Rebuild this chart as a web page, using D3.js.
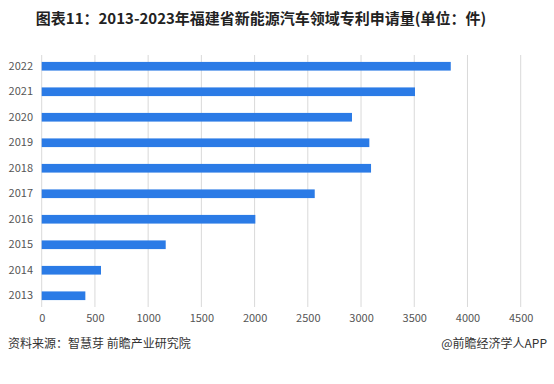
<!DOCTYPE html>
<html lang="zh">
<head>
<meta charset="utf-8" />
<script src="https://d3js.org/d3.v7.min.js"></script>
<style>
  body { margin: 0; background: #fff; }
  text { font-family: "Noto Sans CJK SC", "Noto Sans", sans-serif; }
</style>
</head>
<body>
<script>
  var years = ["2022", "2021", "2020", "2019", "2018", "2017", "2016", "2015", "2014", "2013"];
  var patents = [3843, 3507, 2915, 3078, 3094, 2565, 2007, 1165, 557, 410];
  var xTicks = [0, 500, 1000, 1500, 2000, 2500, 3000, 3500, 4000, 4500];

  var width = 554,
      height = 384;

  var svg = d3.select("body").append("svg")
      .attr("width", width)
      .attr("height", height);

  var x = d3.scaleLinear().domain([0, 4500]).range([41.7, 520.7]);
  var y = d3.scaleBand().domain(years).range([53.5, 308.5]).paddingInner(0.66).paddingOuter(0.33);

  // grid lines
  svg.append("g").selectAll("line")
      .data(xTicks)
      .enter().append("line")
      .attr("x1", function (d) { return x(d); })
      .attr("x2", function (d) { return x(d); })
      .attr("y1", 55)
      .attr("y2", 307)
      .attr("stroke", "#d9d9d9")
      .attr("stroke-width", 1);

  // bars
  svg.append("g").selectAll("rect")
      .data(years)
      .enter().append("rect")
      .attr("x", x(0))
      .attr("y", function (d) { return y(d); })
      .attr("width", function (d, i) { return x(patents[i]) - x(0); })
      .attr("height", y.bandwidth())
      .attr("fill", "#2b7be6");

  // x axis
  var xAxis = svg.append("g")
      .attr("transform", "translate(0,314)")
      .call(d3.axisBottom(x).tickValues(xTicks).tickFormat(d3.format("d")).tickSize(0).tickPadding(0));
  xAxis.select(".domain").remove();
  xAxis.selectAll("text")
      .attr("dy", "0.71em")
      .attr("fill", "#555")
      .style("font-size", "11px");

  // y axis
  var yAxis = svg.append("g")
      .attr("transform", "translate(33,0)")
      .call(d3.axisLeft(y).tickSize(0).tickPadding(0));
  yAxis.select(".domain").remove();
  yAxis.selectAll("text")
      .attr("fill", "#555")
      .style("font-size", "11px");

  // title
  svg.append("text")
      .attr("x", 261)
      .attr("y", 24)
      .attr("text-anchor", "middle")
      .attr("fill", "#222")
      .style("font-size", "15px")
      .style("font-weight", "bold")
      .text("图表11：2013-2023年福建省新能源汽车领域专利申请量(单位：件)");

  // footer
  svg.append("text")
      .attr("x", 8)
      .attr("y", 348)
      .attr("fill", "#333")
      .style("font-size", "12px")
      .text("资料来源：智慧芽 前瞻产业研究院");

  svg.append("text")
      .attr("x", 547)
      .attr("y", 348)
      .attr("text-anchor", "end")
      .attr("fill", "#333")
      .style("font-size", "12px")
      .text("@前瞻经济学人APP");
</script>
</body>
</html>
